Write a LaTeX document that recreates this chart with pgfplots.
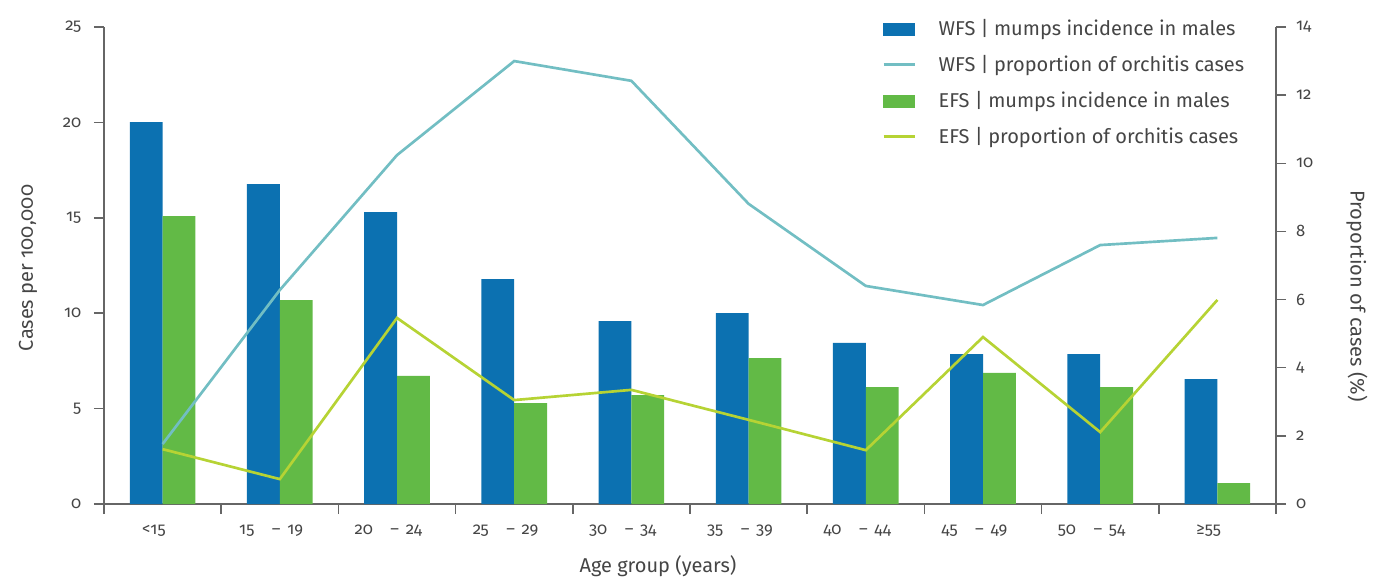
\documentclass[border=0pt]{standalone}
\usepackage{pgfplots}
\pgfplotsset{compat=1.18}
\usepackage{pgfplotstable}
\usepackage{fontspec}
\setmainfont{Fira Sans}[Numbers=OldStyle]

\definecolor{wfsblue}{HTML}{0C71B1}
\definecolor{efsgreen}{HTML}{62BA46}
\definecolor{wfsline}{HTML}{72BEC3}
\definecolor{efsline}{HTML}{B6D334}
\definecolor{txt}{HTML}{454545}
\definecolor{axgray}{HTML}{666666}

% mumps incidence in males, cases per 100,000
\pgfplotstableread{
x wfs   efs
0 20.02 15.09
1 16.77 10.69
2 15.30 6.71
3 11.79 5.29
4 9.59  5.71
5 10.01 7.65
6 8.44  6.13
7 7.86  6.87
8 7.86  6.13
9 6.55  1.10
}\incidence

% proportion of orchitis cases (%)
\pgfplotstableread{
x wfs   efs
0 1.76  1.61
1 6.28  0.73
2 10.24 5.46
3 13.00 3.05
4 12.42 3.35
5 8.81  2.47
6 6.40  1.58
7 5.84  4.90
8 7.60  2.11
9 7.81  5.99
}\orchitis

\newcommand{\rng}[2]{#1\hspace{1.05em}–\hspace{0.4em}#2}

\pgfplotsset{
  base/.style={
    scale only axis, width=879pt, height=357.75pt,
    xmin=-0.5, xmax=9.5, ymin=0,
    axis line style={axgray, line width=1.1pt},
    tick style={axgray, line width=1.1pt},
    major tick length=7.5pt,
    tick align=outside,
    tick label style={txt, font=\fontsize{12.5}{14}\selectfont},
    label style={txt, font=\fontsize{15}{18}\selectfont},
    /pgf/number format/assume math mode=true,
  },
}

\begin{document}
\begin{tikzpicture}
\useasboundingbox (-78pt,-54pt) rectangle (951.75pt,378pt);

\begin{axis}[base,
  axis x line*=bottom, axis y line*=left,
  every outer x axis line/.append style={-},
  every outer y axis line/.append style={-},
  xtick pos=bottom, ytick pos=left,
  ymax=25, ytick={0,5,...,25},
  yticklabel style={xshift=-6pt},
  xtick={-0.5,0.5,...,9.5},
  x tick label as interval,
  xticklabel style={yshift=-4.5pt, xshift=-6.5pt},
  xticklabels={<15, \rng{15}{19}, \rng{20}{24}, \rng{25}{29},
    \rng{30}{34}, \rng{35}{39}, \rng{40}{44}, \rng{45}{49},
    \rng{50}{54}, ≥55},
  ylabel={Cases per 100,000},
  ylabel style={at={(axis description cs:-0.0648,0.495)}, anchor=center},
  xlabel={Age group (years)},
  xlabel style={at={(axis description cs:0.4727,-0.130)}, anchor=center},
]
\addplot[ybar, bar width=0.28, bar shift=-0.14, fill=wfsblue, draw=none]
  table[x=x, y=wfs] {\incidence};
\addplot[ybar, bar width=0.28, bar shift=0.14, fill=efsgreen, draw=none]
  table[x=x, y=efs] {\incidence};
\end{axis}

\begin{axis}[base,
  axis y line*=right, axis x line=none,
  every outer y axis line/.append style={-},
  ytick pos=right,
  ymax=14, ytick={0,2,...,14},
  yticklabel style={xshift=4pt},
  ylabel={Proportion of cases (\%)},
  ylabel style={at={(axis description cs:1.0691,0.436)}, anchor=center, rotate=180},
  legend cell align=left,
  legend style={draw=none, fill=none, at={(0.6604,1.027)}, anchor=north west,
    font=\fontsize{15}{18}\selectfont, text=txt, row sep=9.4pt,
    /tikz/every odd column/.append style={column sep=15pt}},
]
\addlegendimage{legend image code/.code={\fill[wfsblue] (0pt,-4.5pt) rectangle (23.25pt,4.5pt);}}
\addlegendentry{WFS | mumps incidence in males}
\addplot[wfsline, line width=2pt,
  legend image code/.code={\draw[wfsline, line width=2pt] (0pt,0pt) -- (23.25pt,0pt);}]
  table[x=x, y=wfs] {\orchitis};
\addlegendentry{WFS | proportion of orchitis cases}
\addlegendimage{legend image code/.code={\fill[efsgreen] (0pt,-4.5pt) rectangle (23.25pt,4.5pt);}}
\addlegendentry{EFS | mumps incidence in males}
\addplot[efsline, line width=2pt,
  legend image code/.code={\draw[efsline, line width=2pt] (0pt,0pt) -- (23.25pt,0pt);}]
  table[x=x, y=efs] {\orchitis};
\addlegendentry{EFS | proportion of orchitis cases}
\end{axis}
\end{tikzpicture}
\end{document}
